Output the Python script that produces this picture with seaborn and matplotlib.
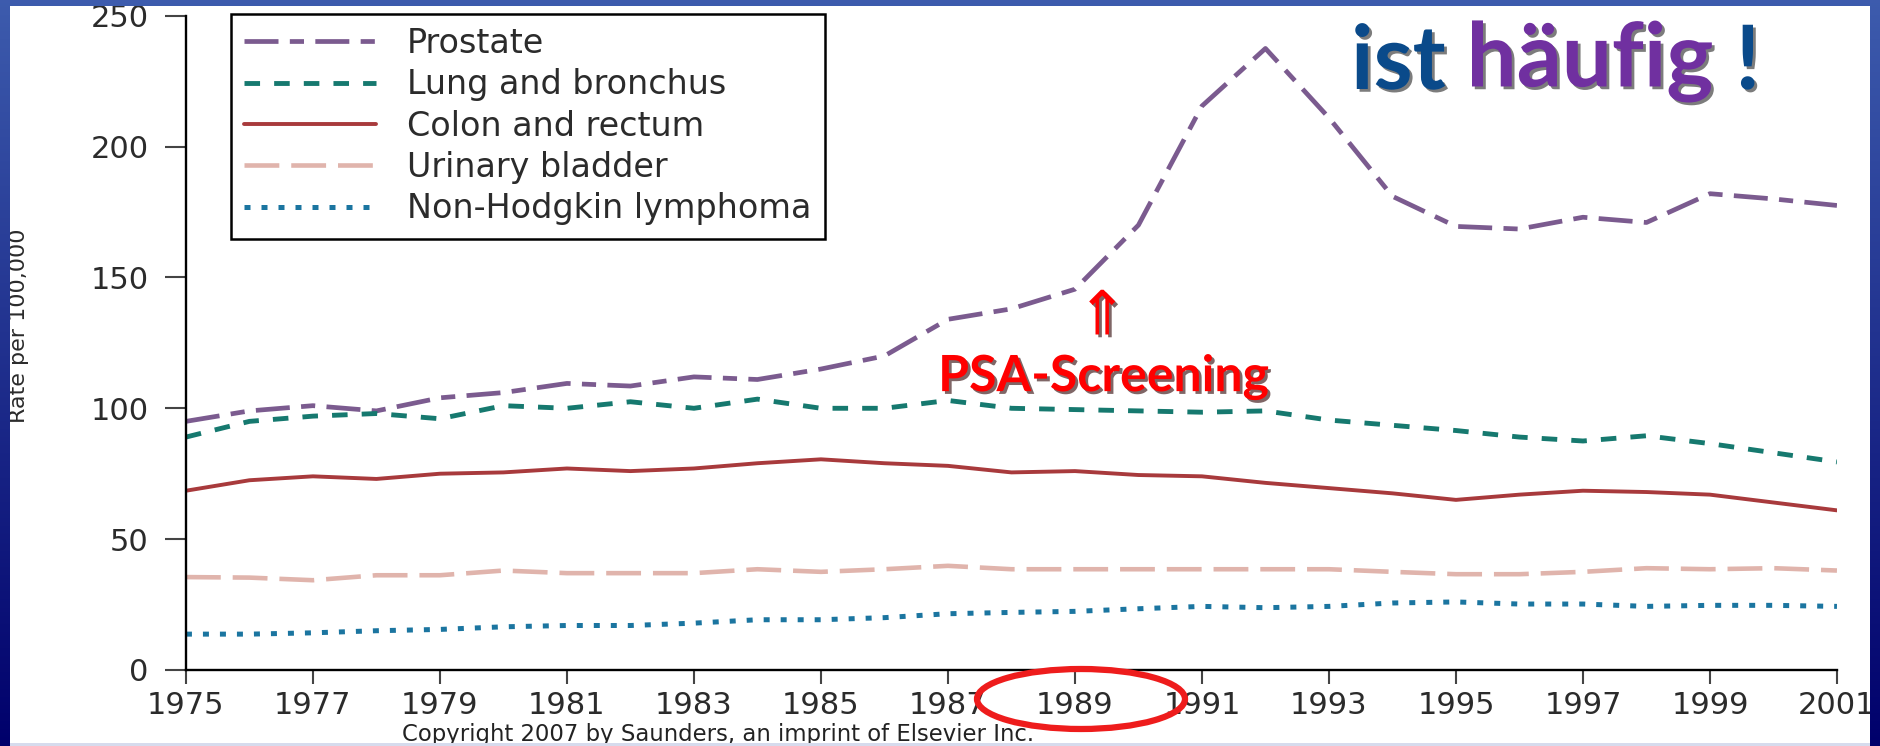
# ==================================================================================
# ===================== Krebsinzidenz USA 1975-2001 (Männer) =======================
# ==================================================================================
import numpy as np
import pandas as pd
import matplotlib
matplotlib.use('Agg')
import matplotlib.pyplot as plt
import matplotlib.patheffects as pe
from matplotlib.patches import Ellipse
import seaborn as sns

# ------------------------------------ Données -------------------------------------
years = list(range(1975, 2002))
prostate = [95, 99, 101, 99, 104, 106, 109.5, 108.5, 112, 111, 115, 120, 134, 138, 145.5,
            170, 215.5, 237.5, 211, 181, 169.5, 168.5, 173, 171, 182, 180, 177.5]
lung = [89, 95, 97, 98, 96, 101, 100, 102.5, 100, 103.5, 100, 100, 103, 100, 99.5,
        99, 98.5, 99, 95.5, 93.5, 91.5, 89, 87.5, 89.5, 86.5, 83, 79.5]
colon = [68.5, 72.5, 74, 73, 75, 75.5, 77, 76, 77, 79, 80.5, 79, 78, 75.5, 76,
         74.5, 74, 71.5, 69.5, 67.5, 65, 67, 68.5, 68, 67, 64, 61]
bladder = [35.5, 35.3, 34.3, 36.2, 36.2, 38, 37, 37, 37, 38.5, 37.5, 38.5, 39.8, 38.5, 38.5,
           38.5, 38.5, 38.5, 38.5, 37.5, 36.6, 36.6, 37.5, 38.9, 38.5, 38.9, 38]
nhl = [13.7, 13.7, 14.2, 15, 15.5, 16.5, 17, 17, 17.9, 19.2, 19.2, 20, 21.5, 22, 22.4,
       23.4, 24.3, 23.8, 24.3, 25.6, 26, 25.2, 25.2, 24.3, 24.7, 24.7, 24.3]

series_names = ['Prostate', 'Lung and bronchus', 'Colon and rectum', 'Urinary bladder',
                'Non-Hodgkin lymphoma']
series_values = [prostate, lung, colon, bladder, nhl]
x_ticks = list(range(1975, 2002, 2))
y_ticks = [0, 50, 100, 150, 200, 250]

df = pd.DataFrame({'year': years})
for name, vals in zip(series_names, series_values):
    df[name] = vals
df = df.melt(id_vars='year', var_name='site', value_name='rate')

# styles : couleur, épaisseur, motif
colors = ['#7b5b8f', '#16796f', '#a83a3c', '#e0b4ac', '#1b75a0']
widths = [3.4, 3.5, 2.8, 3.3, 3.6]
styles = [(0, (7.2, 2.4, 3.0, 2.4)), (0, (3.2, 2.9)), '-', (0, (7.6, 2.6)), (0, (1.2, 2.2))]

# ------------------------------------ Figure --------------------------------------
sns.set_theme(style='ticks')
plt.rcParams['font.family'] = ['DejaVu Sans']

fig = plt.figure(figsize=(18.8, 7.46), dpi=100)
fig.patch.set_facecolor('white')

ax = fig.add_axes([0.0989, 0.1019, 0.8782, 0.877])
ax.patch.set_visible(False)

for name, c, w, ls in zip(series_names, colors, widths, styles):
    sns.lineplot(data=df[df['site'] == name], x='year', y='rate', color=c, lw=w,
                 linestyle=ls, errorbar=None, ax=ax)

ax.set_xlim(1975, 2001)
ax.set_ylim(0, 250)
ax.set_xticks(x_ticks)
ax.set_yticks(y_ticks)
ax.set_xlabel('')
ax.set_ylabel('')
sns.despine(ax=ax)
for s in ['left', 'bottom']:
    ax.spines[s].set_color('black')
    ax.spines[s].set_linewidth(1.7)
ax.tick_params(axis='y', direction='out', length=15, width=1.5, pad=12, labelsize=22,
               colors='#2b2b2b')
ax.tick_params(axis='x', direction='out', length=10, width=1.5, pad=5, labelsize=22,
               colors='#2b2b2b')
ax.tick_params(color='#444444')

leg = ax.legend(handles=ax.lines[:5], labels=series_names, loc='upper left',
                bbox_to_anchor=(0.027, 1.003), borderaxespad=0, frameon=True,
                fancybox=False, edgecolor='black', facecolor='white', framealpha=1,
                fontsize=24, handlelength=3.95, handletextpad=0.95, labelspacing=0.25,
                borderpad=0.4)
leg.get_frame().set_linewidth(1.8)
for t in leg.get_texts():
    t.set_color('#2b2b2b')

fig.text(19 / 1880, 1 - 326 / 746, 'Rate per 100,000', rotation=90, ha='center',
         va='center', fontsize=16, color='#2b2b2b')
fig.text(718 / 1880, 0.016, 'Copyright 2007 by Saunders, an imprint of Elsevier Inc.',
         ha='center', va='center', fontsize=16.4, color='#222222')

# ------------------------------- Annotations --------------------------------------
shadow = [pe.withSimplePatchShadow(offset=(2, -2), shadow_rgbFace='#2a0000', alpha=0.6)]
ax.text(1989.43, 134.5, '⇑', ha='center', va='center', fontsize=44, color='#ff0000',
        family=['DejaVu Sans'], path_effects=shadow)
ax.text(1989.45, 112, 'PSA-Screening', ha='center', va='center', fontsize=36,
        fontweight='bold', color='#ff0000', family=['Lato', 'DejaVu Sans'],
        path_effects=shadow)

title_shadow = [pe.withSimplePatchShadow(offset=(2, -2), shadow_rgbFace='#101010', alpha=0.55)]
title_kw = dict(fontsize=64, fontweight='bold', family=['Lato', 'DejaVu Sans'],
                path_effects=title_shadow)
t1 = ax.text(1351 / 1880, 1 - 89 / 746, 'ist', transform=fig.transFigure, ha='left',
             va='baseline', color='#0a4a8a', **title_kw)
t2 = ax.annotate('häufig', xy=(1, 0), xycoords=t1, xytext=(15, 0),
                 textcoords='offset points', ha='left', va='bottom', color='#7030a0',
                 **title_kw)
t3 = ax.annotate('!', xy=(1, 0), xycoords=t2, xytext=(16, 0),
                 textcoords='offset points', ha='left', va='bottom', color='#0a4a8a',
                 **title_kw)

ring = Ellipse((1081 / 1880, 1 - 699 / 746), 208 / 1880, 60 / 746, transform=fig.transFigure,
               fill=False, edgecolor='#ee1c1c', lw=4.5, zorder=8)
fig.add_artist(ring)

# ------------------------------- Cadre de la diapo --------------------------------
H, W = 746, 1880
r = np.linspace(0, 1, H)[:, None]
top_c = np.array([0.24, 0.36, 0.68])
bot_c = np.array([0.0, 0.0, 0.42])
frame = np.zeros((H, W, 4))
frame[..., :3] = (top_c * (1 - r[..., None]) + bot_c * r[..., None]).repeat(W, axis=1)
mask = np.zeros((H, W), dtype=bool)
mask[:, :10] = True
mask[:, 1870:] = True
mask[:6, :] = True
mask[743:, :] = True
frame[743:, 10:1870, :3] = [0.84, 0.86, 0.93]
frame[..., 3] = mask.astype(float)
over = fig.add_axes([0, 0, 1, 1], zorder=10)
over.imshow(frame, aspect='auto', extent=(0, 1, 0, 1), interpolation='nearest')
over.set_axis_off()

fig.savefig('out.png', dpi=100)
